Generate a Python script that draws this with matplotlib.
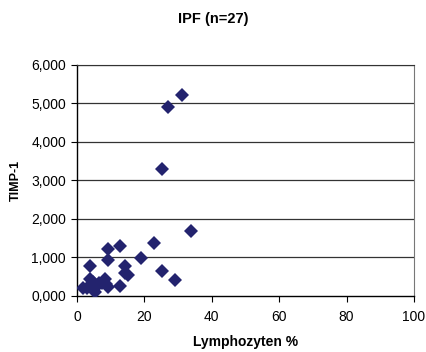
import matplotlib.pyplot as plt
from matplotlib.ticker import FuncFormatter

plt.rcParams['font.family'] = ['Liberation Sans', 'DejaVu Sans']

# Lymphozyten % vs TIMP-1
lymph = [31.1, 26.9, 25.1, 33.9, 23.0, 12.9, 9.3, 19.0, 9.3, 4.0,
         14.2, 14.2, 15.1, 25.1, 29.0, 12.9, 9.3, 8.2, 4.0, 1.8,
         3.0, 5.2, 6.5, 7.5, 4.7, 5.7, 8.7]
timp = [5222, 4902, 3291, 1680, 1377, 1299, 1212, 996, 935, 779,
        779, 606, 537, 641, 416, 268, 225, 442, 442, 208,
        208, 113, 329, 346, 372, 242, 312]

xticks = [0, 20, 40, 60, 80, 100]
yticks = [0, 1000, 2000, 3000, 4000, 5000, 6000]

fig = plt.figure(figsize=(4.27, 3.52), dpi=100)
ax = fig.add_axes([0.1803, 0.1591, 0.7892, 0.657])

for yv in yticks[1:]:
    ax.axhline(yv, color='#333333', lw=0.9, zorder=1)

ax.plot(lymph, timp, 'D', color='#23236e', markersize=7, markeredgewidth=0, zorder=3)

ax.set_xlim(0, 100)
ax.set_ylim(0, 6000)
ax.set_xticks(xticks)
ax.set_yticks(yticks)
ax.yaxis.set_major_formatter(FuncFormatter(lambda v, p: '%d,%03d' % (int(v) // 1000, int(v) % 1000)))
ax.tick_params(labelsize=10, length=4, width=0.8, color='black', pad=4)
ax.tick_params(axis='x', pad=6)

for s in ['left', 'bottom']:
    ax.spines[s].set_color('black')
    ax.spines[s].set_linewidth(1.0)
ax.spines['top'].set_color('#333333')
ax.spines['right'].set_color('#777777')

ax.set_xlabel('Lymphozyten %', fontsize=10, fontweight='bold')
ax.set_ylabel('TIMP-1', fontsize=9, fontweight='bold')
ax.xaxis.set_label_coords(0.5, -0.17)
ax.yaxis.set_label_coords(-0.165, 0.5)
fig.text(0.5, 0.946, 'IPF (n=27)', ha='center', va='center', fontsize=10.5, fontweight='bold')

fig.savefig('out.png', dpi=100)
